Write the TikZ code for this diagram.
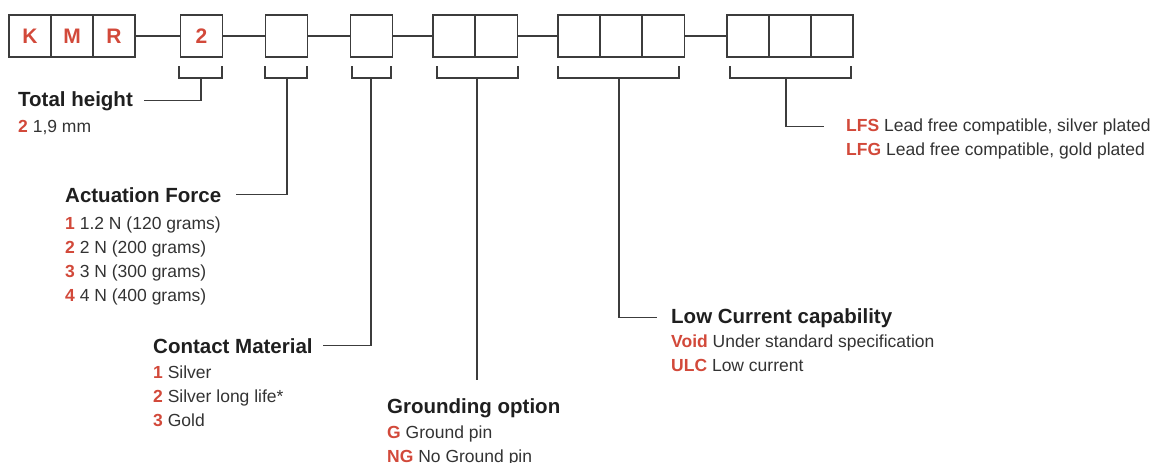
\documentclass[tikz,border=0pt]{standalone}
\usepackage{fontspec}
\setmainfont{Liberation Sans}
\usetikzlibrary{positioning}
\definecolor{codered}{HTML}{D2493A}
\definecolor{inkgray}{HTML}{3C3C3C}
\definecolor{textgray}{HTML}{333333}
\tikzset{
  cell/.style={draw=inkgray, line width=1.2pt, minimum width=42pt, minimum height=42pt,
    inner sep=0pt, text=codered, font=\fontsize{21}{21}\selectfont\bfseries},
  link/.style={draw=inkgray, line width=1.2pt},
  heading/.style={anchor=base west, inner sep=0pt, text=black!88,
    font=\fontsize{20.5}{24}\selectfont\bfseries},
  items/.style={anchor=base west, inner sep=0pt, text=textgray,
    font=\fontsize{17.5}{24}\selectfont},
}
\newcommand{\code}[1]{\textcolor{codered}{\bfseries #1}}

\begin{document}
\begin{tikzpicture}[x=1pt, y=-1pt]
      \useasboundingbox (0,0) rectangle (1152,463);

      % the code boxes
      \foreach \name/\x/\t in {k/30/K, m/72/M, r/114/R, b2/201.5/2, b3/286.5/, b4/371.5/,
        b5a/454/, b5b/496.5/, b6a/579/, b6b/621/, b6c/663.5/, b7a/748/, b7b/790/, b7c/832/}
        \node [cell] (\name) at (\x, 36) {\t};
      \draw [link] (r) -- (b2);
      \draw [link] (b2) -- (b3);
      \draw [link] (b3) -- (b4);
      \draw [link] (b4) -- (b5a);
      \draw [link] (b5b) -- (b6a);
      \draw [link] (b6c) -- (b7a);

      % brackets under the boxes
      \foreach \name/\a/\b/\s in {s2/179/222/201, s3/265/307/287, s4/352/391/371,
        s5/437/518/477, s6/558/679/619, s7/730/851/786} {
        \draw [link] (\a, 66) |- (\b, 78) -- (\b, 66);
        \coordinate (\name) at (\s, 78);
      }

      % the options
      \node [heading] (height) at (18, 106) {Total height};
      \node [items] (height-0) at (18, 132) {\code{2} 1,9 mm};

      \node [heading] (force) at (65, 202) {Actuation Force};
      \foreach \c/\t [count=\i from 0] in {1/1.2 N (120 grams), 2/2 N (200 grams),
        3/3 N (300 grams), 4/4 N (400 grams)}
        \node [items] (force-\i) at (65, 229+24*\i) {\code{\c} \t};

      \node [heading] (material) at (153, 353) {Contact Material};
      \foreach \c/\t [count=\i from 0] in {1/Silver, 2/Silver long life*, 3/Gold}
        \node [items] (material-\i) at (153, 378+24*\i) {\code{\c} \t};

      \node [heading] (ground) at (387, 413) {Grounding option};
      \foreach \c/\t [count=\i from 0] in {G/Ground pin, NG/No Ground pin}
        \node [items] (ground-\i) at (387, 438+24*\i) {\code{\c} \t};

      \node [heading] (current) at (671, 323) {Low Current capability};
      \foreach \c/\t [count=\i from 0] in {Void/Under standard specification, ULC/Low current}
        \node [items] (current-\i) at (671, 347+24*\i) {\code{\c} \t};

      \foreach \c/\t [count=\i from 0] in {LFS/{Lead free compatible, silver plated},
        LFG/{Lead free compatible, gold plated}}
        \node [items] (plating-\i) at (846, 131+24*\i) {\code{\c} \t};

      % connectors
      \draw [link] (s2) |- ([xshift=11pt]height.east);
      \draw [link] (s3) |- ([xshift=15pt]force.east);
      \draw [link] (s4) |- ([xshift=10pt]material.east);
      \coordinate (groundtop) at (477, 380);
      \draw [link] (s5) -- (groundtop);
      \draw [link] (s6) |- ([xshift=-14pt]current.west);
      \draw [link] (s7) |- ([xshift=-22pt]plating-0.west);
    \end{tikzpicture}
\end{document}
